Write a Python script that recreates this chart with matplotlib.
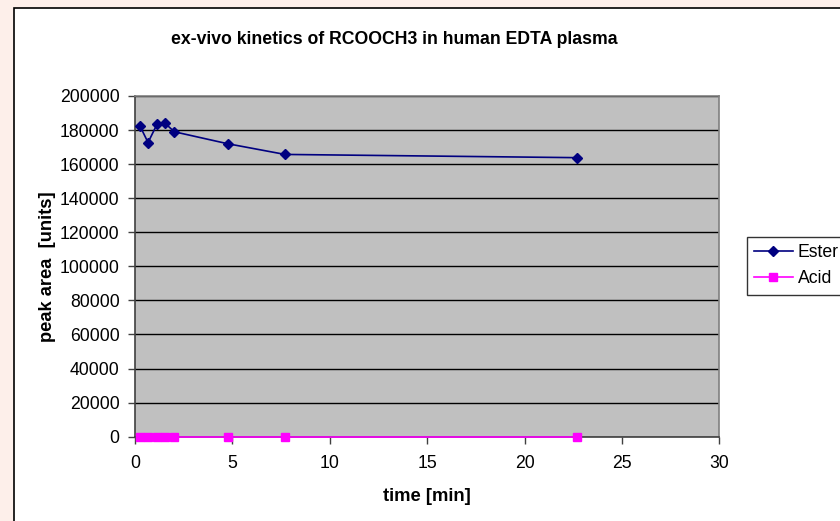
import matplotlib
matplotlib.use("Agg")
import matplotlib.pyplot as plt
from matplotlib.patches import Rectangle

time_min = [0.25, 0.67, 1.13, 1.52, 2.02, 4.75, 7.7, 22.7]
ester = [182500, 172700, 183400, 184200, 179000, 172000, 165700, 163800]
acid = [0, 0, 0, 0, 0, 0, 0, 0]
y_ticks = list(range(0, 200001, 20000))
x_ticks = [0, 5, 10, 15, 20, 25, 30]

plt.rcParams['font.family'] = ['Liberation Sans', 'DejaVu Sans']

W, H = 840, 521
fig = plt.figure(figsize=(8.4, 5.21), dpi=100, facecolor='#FDEFEA')
fig.patches.append(Rectangle((14 / W, -0.05), 1.1, 1 - 8 / H + 0.05,
                             transform=fig.transFigure, facecolor='white',
                             edgecolor='black', linewidth=1.2, zorder=-10))

ax = fig.add_axes([135 / W, 1 - 436.7 / H, (719.3 - 135) / W, (436.7 - 96) / H])
ax.set_zorder(1)
ax.set_facecolor('#C0C0C0')
ax.set_xlim(0, 30)
ax.set_ylim(0, 200000)
ax.set_xticks(x_ticks)
ax.set_yticks(y_ticks)
ax.set_yticklabels([str(v) for v in y_ticks])
ax.grid(axis='y', color='black', linewidth=1.0)
ax.set_axisbelow(True)
for s in ['top', 'right']:
    ax.spines[s].set_color('#808080')
    ax.spines[s].set_linewidth(1.2)
for s in ['left', 'bottom']:
    ax.spines[s].set_color('#404040')
    ax.spines[s].set_linewidth(1.2)
ax.tick_params(direction='out', length=5, width=1, color='#404040', labelsize=12.7, pad=6)
ax.tick_params(axis='x', pad=8)

ax.plot(time_min, ester, color='#000080', linewidth=1.2, marker='D', markersize=5,
        markerfacecolor='#000080', markeredgecolor='#000080', label='Ester',
        clip_on=False, zorder=3)
ax.plot(time_min, acid, color='#FF00FF', linewidth=1.2, marker='s', markersize=5.5,
        markerfacecolor='#FF00FF', markeredgecolor='#FF00FF', label='Acid',
        clip_on=False, zorder=3)

ax.set_xlabel('time [min]', fontsize=13.2, fontweight='bold', labelpad=12)
ax.set_ylabel('peak area  [units]', fontsize=13.2, fontweight='bold', labelpad=3)
fig.text(394 / W, 1 - 39 / H, 'ex-vivo kinetics of RCOOCH3 in human EDTA plasma',
         ha='center', va='center', fontsize=12.7, fontweight='bold')

leg = fig.legend(loc='upper left', bbox_to_anchor=(746.7 / W, 1 - 236.7 / H),
                 fontsize=12.7, frameon=True, fancybox=False, edgecolor='black',
                 handlelength=2.2, handletextpad=0.3, borderpad=0.4,
                 labelspacing=0.55, borderaxespad=0)
leg.get_frame().set_linewidth(1.0)

fig.savefig('out.png', dpi=100, facecolor=fig.get_facecolor())
